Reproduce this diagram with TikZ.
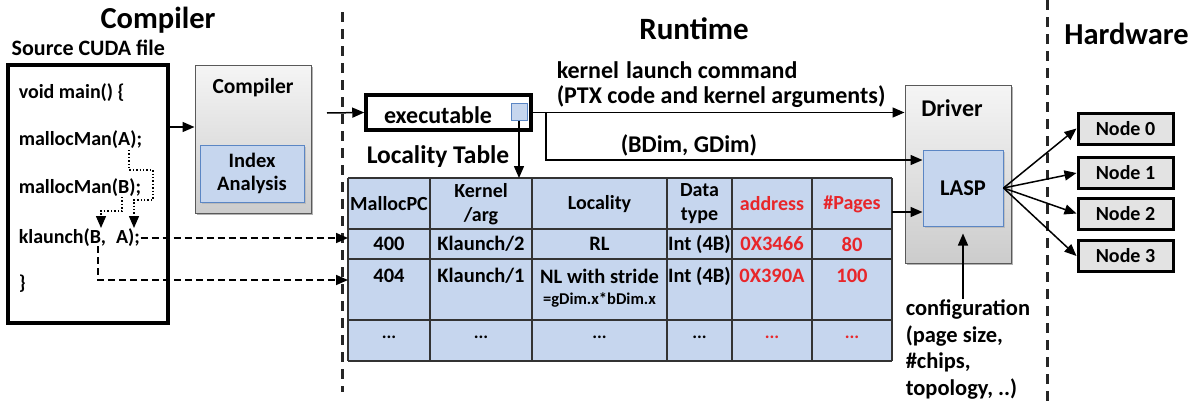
\documentclass[tikz,border=0pt]{standalone}
\usepackage{fontspec}
\setmainfont{Carlito}
\usetikzlibrary{arrows.meta, shadows}

\definecolor{cellblue}{HTML}{C6D6EE}
\definecolor{lineblue}{HTML}{5B86C4}
\definecolor{numred}{HTML}{E8262A}
\newcommand\fsz[1]{\fontsize{#1pt}{#1pt}\selectfont\bfseries}

\tikzset{
  sepline/.style={line width=3pt, dash pattern=on 10pt off 7pt, black!85},
  graybox/.style={draw=black!65, line width=1pt, top color=gray!8, bottom color=gray!40,
    drop shadow={shadow xshift=1.5pt, shadow yshift=-2pt, fill=black!60}},
  bluebox/.style={draw=lineblue, line width=1pt, fill=cellblue},
  shadowed/.style={drop shadow={shadow xshift=1.5pt, shadow yshift=-1.5pt, fill=black!35}},
  tabline/.style={line width=2pt, black!80},
  dasharr/.style={->, line width=1.6pt, dash pattern=on 7pt off 4pt},
  dotarr/.style={->, line width=1.4pt, dotted},
}

\begin{document}
\begin{tikzpicture}[x=1pt, y=-1pt, >={Triangle[length=12pt,width=10pt]}, line width=1.5pt,
    every node/.style={inner sep=0pt, font=\fsz{20}}]
  \useasboundingbox (0,0) rectangle (1200,402);

  % Titel und Trennlinien
  \node[font=\fsz{30.5}] (tcomp) at (158,20) {Compiler};
  \node[font=\fsz{31}] (trun) at (694,29) {Runtime};
  \node[font=\fsz{30.5}] (thw) at (1126.5,34) {Hardware};
  \draw[sepline] (342,12) -- (342,392);
  \draw[sepline] (1047,0) -- (1047,402);

  % Quelldatei
  \node[font=\fsz{22}, anchor=west] (tsrc) at (11,48) {Source CUDA file};
  \node[draw, line width=3.5pt, minimum width=160pt, minimum height=258pt] (src) at (88,194) {};
  \node[anchor=west] (l1) at (18,93) {void main() \{};
  \node[anchor=west] (l2) at (18,140) {mallocMan(A);};
  \node[anchor=west] (l3) at (18,188) {mallocMan(B);};
  \node[anchor=west] (kl) at (18,238) {klaunch(B,\hspace{10pt}A);};
  \node[anchor=west] (l5) at (18,284) {\}};

  % Compiler-Block
  \node[graybox, minimum width=116pt, minimum height=148pt] (comp) at (253,139) {};
  \node[font=\fsz{21.5}] (tcomp2) at (253,88) {Compiler};
  \node[bluebox, shadowed, minimum width=104pt, minimum height=57pt, align=center, font=\fsz{20.5}]
    (idx) at (252,173.5) {Index\\[3pt]Analysis};
  \draw[->] (src.east |- 0,127) -- (comp.west |- 0,127);

  % Abhaengigkeiten im Quelltext
  \coordinate (mA) at (129,150);
  \coordinate (mB) at (122,197);
  \draw[dotarr] (mA) -- (129,170) -- (153,170) -- (153,200) -- (134,200) -- (134,228);
  \draw[dotarr] (mB) -- (122,211) -- (101,211) -- (101,228);

  % executable
  \coordinate (exeIn) at (327,113);
  \node[draw, line width=3.5pt, minimum width=165pt, minimum height=35pt] (exe) at (448.5,112.5) {};
  \node[font=\fsz{24}] (exetxt) at (438,115) {executable};
  \node[bluebox, minimum width=16pt, minimum height=17pt] (sq) at (519,111.5) {};
  \draw[->] (exeIn) -- (exe.west);
  \node[font=\fsz{25.5}] (tloc) at (438,157) {Locality Table};

  % Locality Table
  \coordinate (tabNW) at (348,178);
  \fill[cellblue] (348,178) rectangle (892,361);
  \foreach \cx in {348,430,532,667,732,812,892}
    \draw[tabline] (\cx,178) -- (\cx,361);
  \foreach \ry in {178,229,259,320,361}
    \draw[tabline] (348,\ry) -- (892,\ry);
  \foreach \cx/\txt/\col in {389/MallocPC/black, 481/{Kernel\\[4pt]/arg}/black, 599.5/Locality/black,
      699.5/{Data\\[4pt]type}/black, 772/address/numred, 852/\#Pages/numred}
    \node[font=\fsz{20}, align=center, text=\col] at (\cx,204) {\txt};
  \foreach \cx/\txt/\col in {389/400/black, 481/Klaunch\slash 2/black, 599.5/RL/black,
      699.5/Int (4B)/black, 772/0X3466/numred, 852/80/numred}
    \node[font=\fsz{20.5}, text=\col] at (\cx,244) {\txt};
  \foreach \cx/\txt/\col in {389/404/black, 481/Klaunch\slash 1/black, 599.5/NL with stride/black,
      699.5/Int (4B)/black, 772/0X390A/numred, 852/100/numred}
    \node[font=\fsz{20.5}, text=\col] at (\cx,276) {\txt};
  \node[font=\fsz{16.5}] (stride) at (599.5,300) {=gDim.x*bDim.x};
  \foreach \cx/\col in {389/black, 481/black, 599.5/black, 699.5/black, 772/numred, 852/numred}
    \node[font=\fsz{18}, text=\col] at (\cx,337) {...};
  \draw[->] (sq.south) -- (sq.south |- tabNW);
  \draw[dasharr] (kl.east) -- (kl.east -| tabNW);
  \coordinate (klB) at (98,246);
  \draw[dasharr] (klB) |- (tabNW |- 0,280);

  % Driver und LASP
  \node[graybox, minimum width=106pt, minimum height=178pt] (drv) at (958,174) {};
  \node[font=\fsz{24}] (tdrv) at (952,108) {Driver};
  \node[bluebox, shadowed, minimum width=80pt, minimum height=76pt, font=\fsz{22.5}] (lasp) at (963,188) {LASP};
  \draw[->] (exe.east) -- (drv.west |- exe.east);
  \node[font=\fsz{24}, anchor=west] (tklc) at (556,70) {kernel\hspace{7pt}launch command};
  \node[font=\fsz{24}, anchor=west] (tptx) at (556,97) {(PTX code and kernel arguments)};
  \draw[->] ([xshift=13pt]exe.east) |- (lasp.west |- 0,160);
  \node[font=\fsz{24}, anchor=west] (tbd) at (620,145) {(BDim, GDim)};
  \coordinate (pgE) at (892,212);
  \draw[->] (pgE) -- (lasp.west |- pgE);

  % Konfiguration
  \node[font=\fsz{22.5}, align=left, anchor=north west] (conf) at (905,299)
    {configuration\\[4pt](page size,\\[4pt]\#chips,\\[4pt]topology, ..)};
  \draw[->, shorten >=7pt] (conf.north -| lasp.south) -- (lasp.south);

  % Hardware-Knoten
  \foreach \i/\ny in {0/128.5, 1/173, 2/213.5, 3/256} {
    \node[draw, fill=gray!22, line width=3pt, minimum width=95pt, minimum height=31pt, font=\fsz{20}]
      (n\i) at (1125.5,\ny) {Node \i};
    \draw[->] (lasp.east) -- (n\i.west);
  }
\end{tikzpicture}
\end{document}
